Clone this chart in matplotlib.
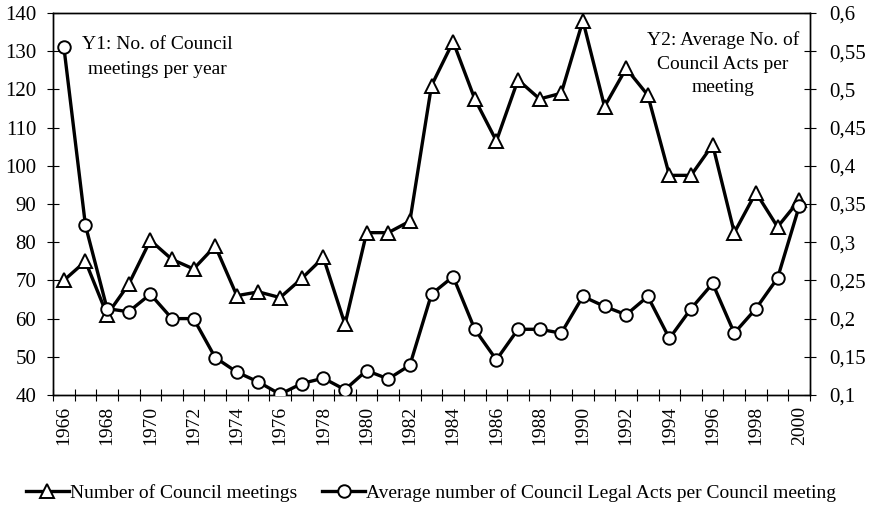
import numpy as np
import matplotlib
matplotlib.use("Agg")
import matplotlib.pyplot as plt
from matplotlib.lines import Line2D

years = list(range(1966, 2001))
meetings = [70, 75, 61, 69, 80.5, 75.5, 73, 79, 66, 67, 65.5, 70.5, 76, 58.5,
            82.5, 82.5, 85.5, 121, 132.5, 117.5, 106.5, 122.5, 117.5, 119, 138,
            115.5, 125.5, 118.5, 97.5, 97.5, 105.5, 82.5, 93, 84, 91]
acts_per_meeting = [0.556, 0.322, 0.213, 0.209, 0.232, 0.200, 0.200, 0.149, 0.130,
                    0.117, 0.101, 0.115, 0.122, 0.107, 0.132, 0.121, 0.139, 0.232,
                    0.255, 0.186, 0.146, 0.186, 0.186, 0.181, 0.229, 0.216, 0.205,
                    0.229, 0.174, 0.213, 0.246, 0.181, 0.213, 0.253, 0.347]
y1_ticks = [40, 50, 60, 70, 80, 90, 100, 110, 120, 130, 140]
y2_ticks = [0.1, 0.15, 0.2, 0.25, 0.3, 0.35, 0.4, 0.45, 0.5, 0.55, 0.6]
y2_labels = ["0,1", "0,15", "0,2", "0,25", "0,3", "0,35", "0,4", "0,45", "0,5", "0,55", "0,6"]
label_meetings = "Number of Council meetings"
label_acts = "Average number of Council Legal Acts per Council meeting"

plt.rcParams['font.family'] = ['Liberation Serif', 'DejaVu Serif']

fig = plt.figure(figsize=(8.69, 5.11), dpi=100)
L, R, T, B = 53, 810, 13, 395
ax = fig.add_axes([L/869, 1 - B/511, (R-L)/869, (B-T)/511])
x = np.arange(len(years))

ax.plot(x, meetings, color='black', lw=2.4, marker='^', markersize=10.5,
        markerfacecolor='white', markeredgecolor='black', markeredgewidth=1.4, zorder=3)
ax.set_ylim(40, 140)
ax.set_yticks(y1_ticks)
ax.set_xlim(-0.5, len(years) - 0.5)
ax.set_xticks(np.arange(len(years) + 1) - 0.5)
ax.set_xticklabels([])
ax.set_xticks(x[::2], minor=True)
ax.set_xticklabels([str(y) for y in years[::2]], minor=True, rotation=90, fontsize=14)
ax.tick_params(axis='x', which='major', direction='inout', length=8, width=0.8)
ax.tick_params(axis='x', which='minor', length=0, pad=8)
ax.tick_params(axis='y', direction='inout', length=8, width=0.8, labelsize=15, pad=8)

ax2 = ax.twinx()
ax2.plot(x, acts_per_meeting, color='black', lw=2.4, marker='o', markersize=9,
         markerfacecolor='white', markeredgecolor='black', markeredgewidth=1.4, zorder=3)
ax2.set_ylim(0.1, 0.6)
ax2.set_yticks(y2_ticks)
ax2.set_yticklabels(y2_labels)
ax2.tick_params(axis='y', direction='inout', length=8, width=0.8, labelsize=15, pad=10)

for a in (ax, ax2):
    for s in a.spines.values():
        s.set_linewidth(1.0)

def px_to_axes(px, py):
    return ((px - L) / (R - L), (B - py) / (B - T))

tx, ty = px_to_axes(157, 57)
ax.text(tx, ty, "Y1: No. of Council\nmeetings per year", transform=ax.transAxes,
        fontsize=14, ha='center', va='center', linespacing=1.55)
tx, ty = px_to_axes(723, 64)
ax2.text(tx, ty, "Y2: Average No. of\nCouncil Acts per\nmeeting", transform=ax2.transAxes,
         fontsize=14, ha='center', va='center', linespacing=1.5)

h1 = Line2D([], [], color='black', lw=2.4, marker='^', markersize=10,
            markerfacecolor='white', markeredgecolor='black', markeredgewidth=1.4)
h2 = Line2D([], [], color='black', lw=2.4, marker='o', markersize=9,
            markerfacecolor='white', markeredgecolor='black', markeredgewidth=1.4)
fig.legend([h1, h2], [label_meetings, label_acts], loc='center',
           bbox_to_anchor=(431/869, 1 - 493/511), ncol=2, frameon=False,
           fontsize=14, handlelength=2.2, handletextpad=0.05, columnspacing=1.3)

fig.savefig("out.png", dpi=100)
